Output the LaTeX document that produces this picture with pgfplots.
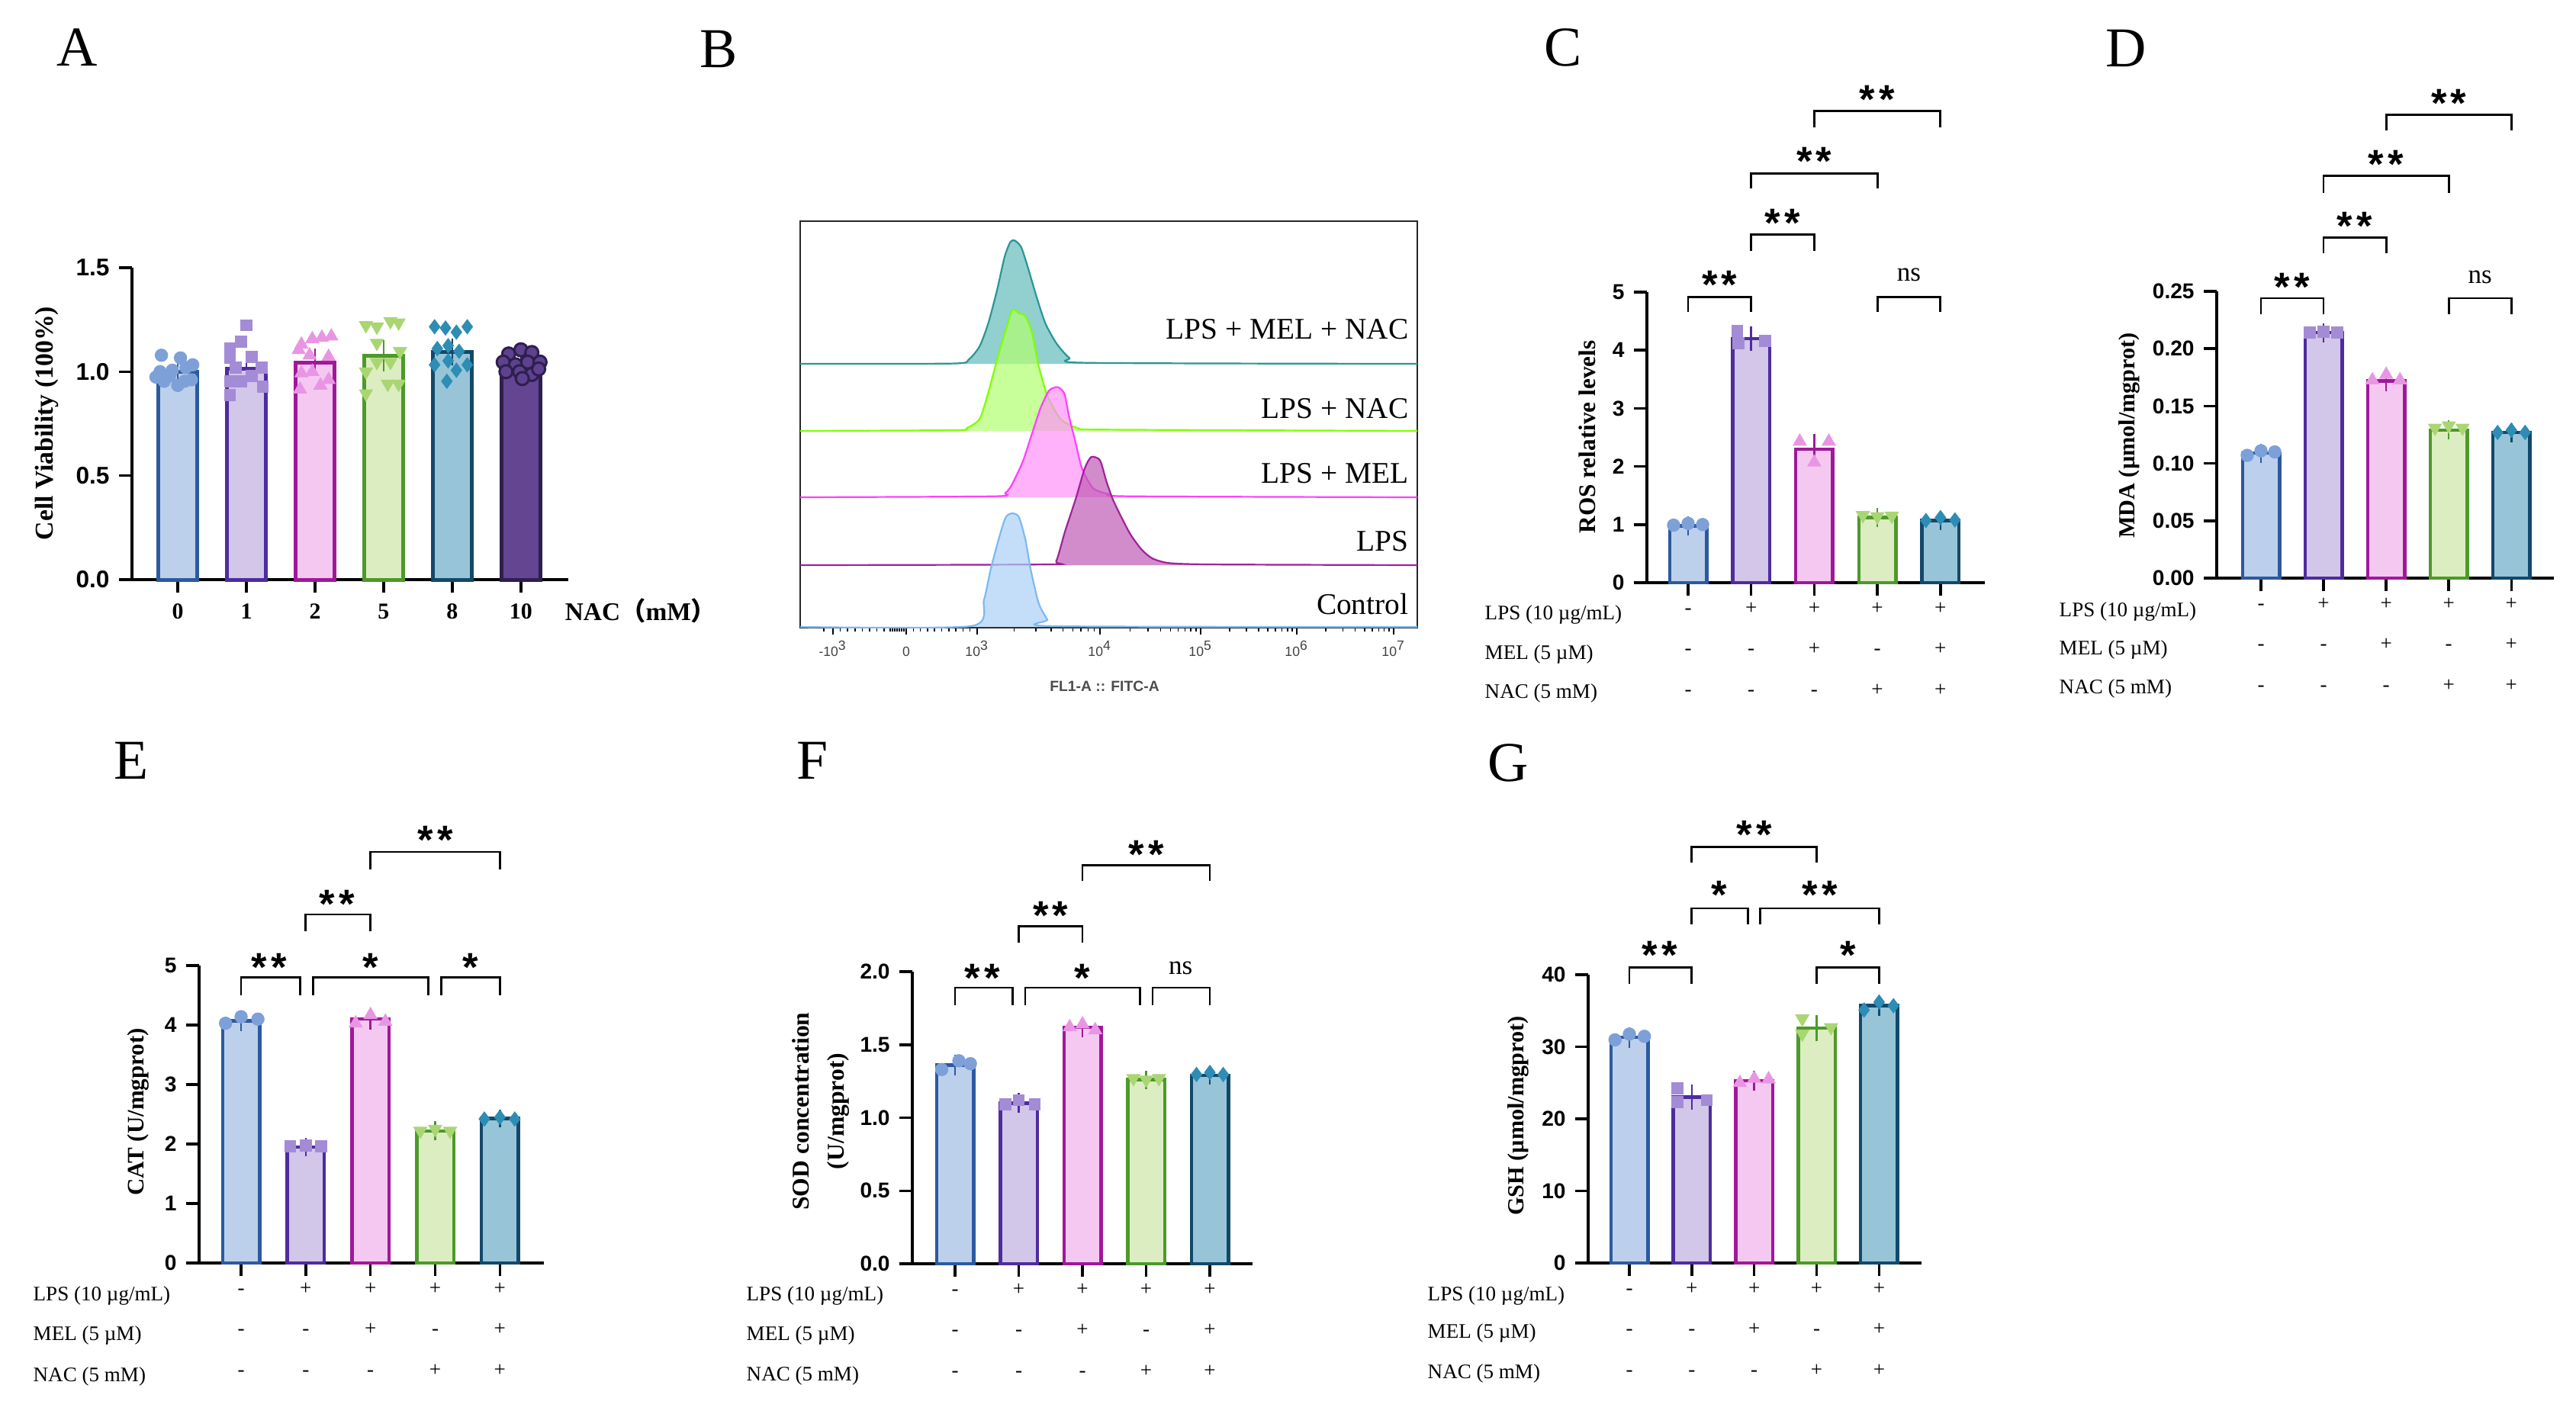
\documentclass[border=0pt]{standalone}
\usepackage{pgfplots}
\pgfplotsset{compat=1.18}
\usepackage{fontspec}
\setmainfont{Liberation Serif}
\newfontfamily\arial{Liberation Sans}
\newfontfamily\cjk{Noto Sans CJK SC}
\definecolor{f0}{HTML}{BDD0EB}\definecolor{b0}{HTML}{2C5AA0}\definecolor{p0}{HTML}{7DA0D8}
\definecolor{f1}{HTML}{D2C6E9}\definecolor{b1}{HTML}{4E2C9E}\definecolor{p1}{HTML}{A48BD6}
\definecolor{f2}{HTML}{F5C8F2}\definecolor{b2}{HTML}{A0189A}\definecolor{p2}{HTML}{E896E4}
\definecolor{f3}{HTML}{DDEDC2}\definecolor{b3}{HTML}{4C9A2A}\definecolor{p3}{HTML}{A9D672}
\definecolor{f4}{HTML}{98C4D8}\definecolor{b4}{HTML}{12496A}\definecolor{p4}{HTML}{2D8DB5}
\definecolor{f5}{HTML}{634592}\definecolor{b5}{HTML}{2E1F4E}\definecolor{p5}{HTML}{5E4290}
\definecolor{hc0}{HTML}{7DB9F0}\definecolor{hf0}{HTML}{ABD0F8}
\definecolor{hc1}{HTML}{A0239A}\definecolor{hf1}{HTML}{C05BB5}
\definecolor{hc2}{HTML}{FF40FF}\definecolor{hf2}{HTML}{FF92F6}
\definecolor{hc3}{HTML}{7FFF00}\definecolor{hf3}{HTML}{B0FF6F}
\definecolor{hc4}{HTML}{2A9696}\definecolor{hf4}{HTML}{64BABA}
\newcommand{\twost}{*\kern1.5pt*}
\newcommand{\onest}{*}
\pgfplotsset{
 gp/.style={scale only axis, anchor=south west, clip=false,
  axis x line=bottom, axis y line=left,
  axis line style={-, line width=0.35mm, black},
  every outer x axis line/.append style={-}, every outer y axis line/.append style={-},
  tick style={line width=0.35mm, black}, tick align=outside, major tick length=1.7mm, ymin=0,
  yticklabel style={font=\arial\bfseries\fontsize{8}{8}\selectfont, /pgf/number format/assume math mode=true}},
 signs/.style={xtick={0,1,2,3,4},
  xticklabels={{\strut-\\\strut-\\\strut-},{\strut+\\\strut-\\\strut-},{\strut+\\\strut+\\\strut-},{\strut+\\\strut-\\\strut+},{\strut+\\\strut+\\\strut+}},
  xticklabel style={align=center, font=\fontsize{7.7}{15.1}\selectfont, anchor=north, inner sep=0pt, yshift=1.3mm}},
 bar/.style={ybar, bar shift=0pt, bar width=4.85mm, line width=0.45mm},
 barA/.style={ybar, bar shift=0pt, bar width=5.1mm, line width=0.5mm},
 m0/.style={only marks, mark=*, mark size=0.8mm, mark options={draw=p0, fill=p0}},
 m1/.style={only marks, mark=square*, mark size=0.72mm, mark options={draw=p1, fill=p1}},
 m2/.style={only marks, mark=triangle*, mark size=0.95mm, mark options={draw=p2, fill=p2}},
 m3/.style={only marks, mark=triangle*, mark size=0.95mm, mark options={draw=p3, fill=p3, rotate=180}},
 m4/.style={only marks, mark=diamond*, mark size=0.9mm, mark options={draw=p4, fill=p4}},
 m5/.style={only marks, mark=*, mark size=0.85mm, mark options={draw=b5, fill=p5, line width=0.3mm}},
 eb/.style={no marks, error bars/.cd, y dir=both, y explicit,
  error bar style={line width=0.25mm, draw=#1}, error mark options={mark size=1.1mm, line width=0.25mm, draw=#1}},
}
\tikzset{
 brk/.style={line width=0.28mm, black},
 sig/.style={font=\arial\bfseries\fontsize{15}{15}\selectfont, anchor=base, yshift=-8.7pt, inner sep=0pt},
 nsl/.style={font=\fontsize{10}{10}\selectfont, anchor=base, yshift=-2.2pt, inner sep=0pt},
 rowlab/.style={font=\fontsize{7.7}{8}\selectfont, anchor=west, inner sep=0pt},
 ylab/.style={font=\bfseries\fontsize{#1}{#1}\selectfont, rotate=90, inner sep=0pt},
 letter/.style={font=\fontsize{21}{21}\selectfont, inner sep=0pt},
 flab/.style={font=\fontsize{11.2}{12}\selectfont, anchor=east, inner sep=0pt},
}
\begin{document}
\begin{tikzpicture}
\path[use as bounding box] (0,0) rectangle (337.7mm,-185.3mm);

% ---------------- Panel A ----------------
\begin{axis}[gp, at={(17.3mm,-76.0mm)}, width=57.2mm, height=40.9mm,
 xmin=-0.667, xmax=5.69, ymax=1.5, ytick={0,0.5,1,1.5},
 yticklabel style={font=\arial\bfseries\fontsize{9}{9}\selectfont, /pgf/number format/.cd, fixed, fixed zerofill, precision=1},
 xtick={0,1,2,3,4,5}, xticklabels={0,1,2,5,8,10},
 xticklabel style={font=\bfseries\fontsize{8.5}{8.5}\selectfont, anchor=base, inner sep=0pt, yshift=-3.4mm}]
\addplot[barA, fill=f0, draw=b0] coordinates {(0,1.000)};
\addplot[barA, fill=f1, draw=b1] coordinates {(1,1.013)};
\addplot[barA, fill=f2, draw=b2] coordinates {(2,1.045)};
\addplot[barA, fill=f3, draw=b3] coordinates {(3,1.075)};
\addplot[barA, fill=f4, draw=b4] coordinates {(4,1.095)};
\addplot[barA, fill=f5, draw=b5] coordinates {(5,1.050)};
\addplot[m0] coordinates {(-0.238,1.079) (0.04,1.066) (0.218,1.033) (-0.258,1.0) (-0.079,1.007) (0.119,1.02) (-0.198,0.954) (0,0.934) (0.198,0.961) (-0.317,0.974) (-0.119,0.98) (0.099,0.954)};
\addplot[m1] coordinates {(1,1.223) (0.921,1.144) (0.762,1.111) (1.079,1.072) (0.762,1.066) (1.218,1.02) (0.841,1.02) (0.762,0.954) (1.079,0.98) (0.921,0.954) (1.238,0.928) (0.762,0.889)};
\addplot[m2] coordinates {(1.802,1.131) (1.96,1.157) (2.099,1.164) (2.238,1.17) (1.762,1.105) (1.921,1.079) (2.198,1.072) (1.802,0.993) (1.96,1.0) (2.198,0.961) (2.079,0.934) (1.782,0.915)};
\addplot[m3] coordinates {(2.742,1.223) (2.901,1.216) (3.099,1.242) (3.218,1.236) (2.901,1.138) (3.238,1.098) (2.901,1.046) (3.099,1.046) (2.742,1.0) (3.06,0.941) (3.218,0.941) (2.742,0.895)};
\addplot[m4] coordinates {(3.742,1.216) (3.901,1.21) (4.06,1.19) (4.218,1.216) (3.782,1.111) (3.94,1.125) (4.099,1.098) (3.742,1.033) (3.94,1.052) (4.218,1.033) (4.06,1.007) (3.921,0.954)};
\addplot[m5] coordinates {(4.821,1.085) (5,1.105) (5.159,1.092) (4.742,1.046) (4.921,1.033) (5.099,1.046) (5.278,1.046) (4.782,1.0) (4.98,1.0) (5.159,0.987) (5.02,0.967) (5.258,1.013)};
\addplot[eb=b0] coordinates {(0,1.000) +- (0,0.012)};
\addplot[eb=b1] coordinates {(1,1.013) +- (0,0.030)};
\addplot[eb=b2] coordinates {(2,1.045) +- (0,0.025)};
\addplot[eb=b3] coordinates {(3,1.075) +- (0,0.035)};
\addplot[eb=b4] coordinates {(4,1.095) +- (0,0.025)};
\addplot[eb=b5] coordinates {(5,1.050) +- (0,0.013)};
\end{axis}
\node[ylab=9.6] at (6.1mm,-55.5mm) {Cell Viability (100\%)};
\node[font=\bfseries\fontsize{9.5}{9.5}\selectfont, inner sep=0pt] at (84.0mm,-80.1mm) {NAC{\cjk （}mM{\cjk ）}};
\node[letter] at (10.1mm,-6.2mm) {A};

% ---------------- Panel B ----------------
\begin{axis}[scale only axis, anchor=south west, at={(104.9mm,-82.3mm)}, width=80.9mm, height=53.3mm,
 xmin=0, xmax=809, ymin=0, ymax=533,
 axis line style={line width=0.2mm, black!85},
 ytick=\empty, xtick pos=left, tick align=outside,
 xtick={43,139,232,393,525,651,778},
 xticklabels={-10\textsuperscript{3},0,10\textsuperscript{3},10\textsuperscript{4},10\textsuperscript{5},10\textsuperscript{6},10\textsuperscript{7}},
 minor xtick={31,52.6,62.2,71.8,81.4,91,100.6,110.2,118,121,124,127,130,133,136,148.3,157.6,166.9,176.2,185.5,194.8,204.1,213.4,222.7,280.5,308.8,328.9,344.5,357.3,368.0,377.4,385.6,432.7,456.0,472.5,485.3,495.7,504.5,512.2,518.9,562.9,585.1,600.9,613.1,623.0,631.5,638.8,645.2,689.2,711.6,727.5,739.8,749.8,758.3,765.7,772.2},
 major tick length=0.9mm, minor tick length=0.5mm,
 tick style={line width=0.15mm, black},
 xticklabel style={font=\arial\fontsize{5}{5}\selectfont, text=black!75, anchor=base, inner sep=0pt, yshift=-2.8mm}]
\addplot[smooth, tension=0.4, draw=hc4, line width=0.22mm, fill=hf4, fill opacity=0.7] coordinates {(0,346) (200.7,346.4) (220.8,351.6) (235.2,369) (246.6,399.3) (258.1,442.7) (267.9,486) (275.4,505.6) (281.1,507.7) (289.7,499) (298.3,473) (309.8,434) (321.3,399.3) (335.6,373.3) (352.9,353.8) (375.8,347.3) (809,346)};
\addplot[smooth, tension=0.4, draw=hc3, line width=0.22mm, fill=hf3, fill opacity=0.7] coordinates {(0,258) (203.6,259) (218,261.5) (235.2,273.6) (246.6,308.3) (258.1,351.7) (269.6,390.7) (278.2,416.7) (286.8,412.4) (295.4,408) (304,386.4) (312.7,343) (324.1,304) (341.4,273.6) (364.3,261.5) (398.8,259.7) (809,258)};
\addplot[smooth, tension=0.4, draw=hc2, line width=0.22mm, fill=hf2, fill opacity=0.7] coordinates {(0,171) (254.5,172.3) (268.9,176.6) (277.5,187.5) (291.8,217.8) (303.3,252.5) (314.8,287.2) (326.3,311) (337.7,315.4) (346.4,306.7) (352.1,278.5) (360.7,243.9) (369.3,209.2) (383.7,183.1) (403.8,175.3) (432.5,172.3) (809,171)};
\addplot[smooth, tension=0.4, draw=hc1, line width=0.22mm, fill=hf1, fill opacity=0.7] coordinates {(0,82) (324.1,83) (335.6,87.2) (347.1,126) (361.4,169.6) (372.9,208.6) (381.5,223.8) (393,219.5) (401.6,191.3) (410.2,167.4) (421.7,143.6) (433.2,121.9) (447.6,102.4) (461.9,90.7) (484.9,84.6) (545.2,82.9) (809,82)};
\addplot[smooth, tension=0.4, draw=hc0, line width=0.22mm, fill=hf0, fill opacity=0.7] coordinates {(0,1) (223.7,2) (240.9,36.6) (249.5,75.6) (261,119) (269.6,145) (278.2,150) (286.8,145) (295.4,114.6) (302.3,75.6) (312.7,32) (324.1,10.5) (332.7,2) (809,1)};
\end{axis}
\node[flab] at (184.7mm,-43.2mm) {LPS + MEL + NAC};
\node[flab] at (184.7mm,-53.6mm) {LPS + NAC};
\node[flab] at (184.7mm,-62.1mm) {LPS + MEL};
\node[flab] at (184.7mm,-71.0mm) {LPS};
\node[flab] at (184.7mm,-79.2mm) {Control};
\node[font=\arial\bfseries\fontsize{5.5}{5.5}\selectfont, text=black!70, inner sep=0pt] at (144.8mm,-90.0mm) {FL1-A :: FITC-A};
\node[letter] at (94.2mm,-6.4mm) {B};

% ---------------- Panel C ----------------
\begin{axis}[gp, signs, at={(215.9mm,-76.4mm)}, width=44.3mm, height=38.1mm,
 xmin=-0.653, xmax=4.704, ymax=5, ytick={0,1,2,3,4,5}]
\addplot[bar, fill=f0, draw=b0] coordinates {(0,0.98)};
\addplot[bar, fill=f1, draw=b1] coordinates {(1,4.20)};
\addplot[bar, fill=f2, draw=b2] coordinates {(2,2.30)};
\addplot[bar, fill=f3, draw=b3] coordinates {(3,1.12)};
\addplot[bar, fill=f4, draw=b4] coordinates {(4,1.07)};
\addplot[m0] coordinates {(-0.23,0.99) (0,1.02) (0.23,1.00)};
\addplot[m1] coordinates {(0.78,4.33) (0.80,4.12) (1.22,4.16)};
\addplot[m2] coordinates {(1.77,2.43) (2.23,2.43) (2.00,2.07)};
\addplot[m3] coordinates {(2.77,1.16) (3.00,1.14) (3.23,1.15)};
\addplot[m4] coordinates {(3.77,1.07) (4.00,1.12) (4.23,1.08)};
\addplot[eb=b0] coordinates {(0,0.98) +- (0,0.02)};
\addplot[eb=b1] coordinates {(1,4.20) +- (0,0.07)};
\addplot[eb=b2] coordinates {(2,2.30) +- (0,0.12)};
\addplot[eb=b3] coordinates {(3,1.12) +- (0,0.02)};
\addplot[eb=b4] coordinates {(4,1.07) +- (0,0.02)};
\draw[brk] (axis cs:0,4.66) |- (axis cs:1,4.91) -- (axis cs:1,4.66);
\node[sig] at (axis cs:0.5,5.29) {\twost};
\draw[brk] (axis cs:1,5.71) |- (axis cs:2,5.99) -- (axis cs:2,5.71);
\node[sig] at (axis cs:1.5,6.35) {\twost};
\draw[brk] (axis cs:1,6.78) |- (axis cs:3,7.04) -- (axis cs:3,6.78);
\node[sig] at (axis cs:2,7.42) {\twost};
\draw[brk] (axis cs:2,7.84) |- (axis cs:4,8.12) -- (axis cs:4,7.84);
\node[sig] at (axis cs:3,8.48) {\twost};
\draw[brk] (axis cs:3,4.66) |- (axis cs:4,4.91) -- (axis cs:4,4.66);
\node[nsl] at (axis cs:3.5,5.29) {ns};
\end{axis}
\node[ylab=8.9] at (208.1mm,-57.3mm) {ROS relative levels};
\node[rowlab] at (194.6mm,-80.6mm) {LPS (10 µg/mL)};
\node[rowlab] at (194.6mm,-85.8mm) {MEL (5 µM)};
\node[rowlab] at (194.6mm,-90.9mm) {NAC (5 mM)};
\node[letter] at (204.9mm,-6.2mm) {C};

% ---------------- Panel D ----------------
\begin{axis}[gp, signs, at={(290.6mm,-75.8mm)}, width=44.2mm, height=37.6mm,
 xmin=-0.707, xmax=4.68, ymax=0.25, ytick={0,0.05,0.1,0.15,0.2,0.25},
 yticklabel style={/pgf/number format/.cd, fixed, fixed zerofill, precision=2}]
\addplot[bar, fill=f0, draw=b0] coordinates {(0,0.109)};
\addplot[bar, fill=f1, draw=b1] coordinates {(1,0.214)};
\addplot[bar, fill=f2, draw=b2] coordinates {(2,0.172)};
\addplot[bar, fill=f3, draw=b3] coordinates {(3,0.129)};
\addplot[bar, fill=f4, draw=b4] coordinates {(4,0.127)};
\addplot[m0] coordinates {(-0.22,0.107) (0,0.111) (0.22,0.110)};
\addplot[m1] coordinates {(0.78,0.214) (1,0.215) (1.22,0.214)};
\addplot[m2] coordinates {(1.78,0.1726) (2,0.1774) (2.22,0.1726)};
\addplot[m3] coordinates {(2.78,0.131) (3,0.133) (3.22,0.131)};
\addplot[m4] coordinates {(3.78,0.127) (4,0.129) (4.22,0.127)};
\addplot[eb=b0] coordinates {(0,0.109) +- (0,0.001)};
\addplot[eb=b1] coordinates {(1,0.214) +- (0,0.001)};
\addplot[eb=b2] coordinates {(2,0.172) +- (0,0.0015)};
\addplot[eb=b3] coordinates {(3,0.129) +- (0,0.001)};
\addplot[eb=b4] coordinates {(4,0.127) +- (0,0.001)};
\draw[brk] (axis cs:0,0.230) |- (axis cs:1,0.244) -- (axis cs:1,0.230);
\node[sig] at (axis cs:0.5,0.262) {\twost};
\draw[brk] (axis cs:1,0.283) |- (axis cs:2,0.297) -- (axis cs:2,0.283);
\node[sig] at (axis cs:1.5,0.315) {\twost};
\draw[brk] (axis cs:1,0.336) |- (axis cs:3,0.351) -- (axis cs:3,0.336);
\node[sig] at (axis cs:2,0.369) {\twost};
\draw[brk] (axis cs:2,0.390) |- (axis cs:4,0.404) -- (axis cs:4,0.390);
\node[sig] at (axis cs:3,0.422) {\twost};
\draw[brk] (axis cs:3,0.230) |- (axis cs:4,0.244) -- (axis cs:4,0.230);
\node[nsl] at (axis cs:3.5,0.262) {ns};
\end{axis}
\node[ylab=8.6] at (279.1mm,-57.1mm) {MDA (µmol/mgprot)};
\node[rowlab] at (269.9mm,-80.2mm) {LPS (10 µg/mL)};
\node[rowlab] at (269.9mm,-85.2mm) {MEL (5 µM)};
\node[rowlab] at (269.9mm,-90.3mm) {NAC (5 mM)};
\node[letter] at (278.7mm,-6.3mm) {D};

% ---------------- Panel E ----------------
\begin{axis}[gp, signs, at={(26.1mm,-165.6mm)}, width=45.2mm, height=39.0mm,
 xmin=-0.649, xmax=4.68, ymax=5, ytick={0,1,2,3,4,5}]
\addplot[bar, fill=f0, draw=b0] coordinates {(0,4.07)};
\addplot[bar, fill=f1, draw=b1] coordinates {(1,1.95)};
\addplot[bar, fill=f2, draw=b2] coordinates {(2,4.10)};
\addplot[bar, fill=f3, draw=b3] coordinates {(3,2.22)};
\addplot[bar, fill=f4, draw=b4] coordinates {(4,2.43)};
\addplot[m0] coordinates {(-0.24,4.03) (0,4.14) (0.26,4.10)};
\addplot[m1] coordinates {(0.76,1.96) (1,1.97) (1.24,1.96)};
\addplot[m2] coordinates {(1.77,4.03) (2,4.17) (2.23,4.06)};
\addplot[m3] coordinates {(2.77,2.22) (3,2.25) (3.23,2.22)};
\addplot[m4] coordinates {(3.76,2.42) (4,2.45) (4.23,2.42)};
\addplot[eb=b0] coordinates {(0,4.07) +- (0,0.03)};
\addplot[eb=b1] coordinates {(1,1.95) +- (0,0.01)};
\addplot[eb=b2] coordinates {(2,4.10) +- (0,0.03)};
\addplot[eb=b3] coordinates {(3,2.22) +- (0,0.02)};
\addplot[eb=b4] coordinates {(4,2.43) +- (0,0.01)};
\draw[brk] (axis cs:0,4.50) |- (axis cs:0.91,4.80) -- (axis cs:0.91,4.50);
\node[sig] at (axis cs:0.43,5.13) {\twost};
\draw[brk] (axis cs:1.11,4.50) |- (axis cs:2.89,4.80) -- (axis cs:2.89,4.50);
\node[sig] at (axis cs:2,5.13) {\onest};
\draw[brk] (axis cs:3.09,4.50) |- (axis cs:4,4.80) -- (axis cs:4,4.50);
\node[sig] at (axis cs:3.55,5.13) {\onest};
\draw[brk] (axis cs:1,5.58) |- (axis cs:2,5.86) -- (axis cs:2,5.58);
\node[sig] at (axis cs:1.48,6.20) {\twost};
\draw[brk] (axis cs:2,6.62) |- (axis cs:4,6.91) -- (axis cs:4,6.62);
\node[sig] at (axis cs:3,7.27) {\twost};
\end{axis}
\node[ylab=8.8] at (18.1mm,-145.8mm) {CAT (U/mgprot)};
\node[rowlab] at (4.3mm,-169.9mm) {LPS (10 µg/mL)};
\node[rowlab] at (4.3mm,-175.1mm) {MEL (5 µM)};
\node[rowlab] at (4.3mm,-180.5mm) {NAC (5 mM)};
\node[letter] at (17.2mm,-99.7mm) {E};

% ---------------- Panel F ----------------
\begin{axis}[gp, signs, at={(119.6mm,-165.7mm)}, width=44.6mm, height=38.3mm,
 xmin=-0.671, xmax=4.67, ymax=2, ytick={0,0.5,1,1.5,2},
 yticklabel style={/pgf/number format/.cd, fixed, fixed zerofill, precision=1}]
\addplot[bar, fill=f0, draw=b0] coordinates {(0,1.36)};
\addplot[bar, fill=f1, draw=b1] coordinates {(1,1.10)};
\addplot[bar, fill=f2, draw=b2] coordinates {(2,1.62)};
\addplot[bar, fill=f3, draw=b3] coordinates {(3,1.26)};
\addplot[bar, fill=f4, draw=b4] coordinates {(4,1.29)};
\addplot[m0] coordinates {(-0.21,1.33) (0.06,1.39) (0.24,1.37)};
\addplot[m1] coordinates {(0.79,1.09) (1,1.12) (1.25,1.09)};
\addplot[m2] coordinates {(1.80,1.62) (2,1.64) (2.20,1.60)};
\addplot[m3] coordinates {(2.80,1.27) (3,1.26) (3.20,1.27)};
\addplot[m4] coordinates {(3.79,1.296) (4,1.31) (4.21,1.296)};
\addplot[eb=b0] coordinates {(0,1.36) +- (0,0.015)};
\addplot[eb=b1] coordinates {(1,1.10) +- (0,0.01)};
\addplot[eb=b2] coordinates {(2,1.62) +- (0,0.01)};
\addplot[eb=b3] coordinates {(3,1.26) +- (0,0.005)};
\addplot[eb=b4] coordinates {(4,1.29) +- (0,0.005)};
\draw[brk] (axis cs:0,1.77) |- (axis cs:0.90,1.89) -- (axis cs:0.90,1.77);
\node[sig] at (axis cs:0.43,2.02) {\twost};
\draw[brk] (axis cs:1.10,1.77) |- (axis cs:2.90,1.89) -- (axis cs:2.90,1.77);
\node[sig] at (axis cs:2,2.02) {\onest};
\draw[brk] (axis cs:3.10,1.77) |- (axis cs:4,1.89) -- (axis cs:4,1.77);
\node[nsl] at (axis cs:3.54,2.02) {ns};
\draw[brk] (axis cs:1,2.20) |- (axis cs:2,2.31) -- (axis cs:2,2.20);
\node[sig] at (axis cs:1.5,2.45) {\twost};
\draw[brk] (axis cs:2,2.62) |- (axis cs:4,2.73) -- (axis cs:4,2.62);
\node[sig] at (axis cs:3,2.87) {\twost};
\end{axis}
\node[ylab=9, align=center, font=\bfseries\fontsize{9}{13}\selectfont] at (107.6mm,-145.7mm) {SOD concentration\\(U/mgprot)};
\node[rowlab] at (97.8mm,-169.9mm) {LPS (10 µg/mL)};
\node[rowlab] at (97.8mm,-175.1mm) {MEL (5 µM)};
\node[rowlab] at (97.8mm,-180.4mm) {NAC (5 mM)};
\node[letter] at (106.5mm,-99.7mm) {F};

% ---------------- Panel G ----------------
\begin{axis}[gp, signs, at={(208.2mm,-165.6mm)}, width=43.7mm, height=37.8mm,
 xmin=-0.66, xmax=4.68, ymax=40, ytick={0,10,20,30,40}]
\addplot[bar, fill=f0, draw=b0] coordinates {(0,31.3)};
\addplot[bar, fill=f1, draw=b1] coordinates {(1,23.0)};
\addplot[bar, fill=f2, draw=b2] coordinates {(2,25.3)};
\addplot[bar, fill=f3, draw=b3] coordinates {(3,32.6)};
\addplot[bar, fill=f4, draw=b4] coordinates {(4,35.7)};
\addplot[m0] coordinates {(-0.23,30.96) (0,31.76) (0.24,31.45)};
\addplot[m1] coordinates {(0.77,24.2) (0.77,22.3) (1.24,22.6)};
\addplot[m2] coordinates {(1.77,25.0) (2,25.6) (2.23,25.5)};
\addplot[m3] coordinates {(2.77,33.9) (2.77,31.8) (3.23,32.7)};
\addplot[m4] coordinates {(3.76,35.1) (4,36.2) (4.23,35.7)};
\addplot[eb=b0] coordinates {(0,31.3) +- (0,0.25)};
\addplot[eb=b1] coordinates {(1,23.0) +- (0,0.6)};
\addplot[eb=b2] coordinates {(2,25.3) +- (0,0.2)};
\addplot[eb=b3] coordinates {(3,32.6) +- (0,0.6)};
\addplot[eb=b4] coordinates {(4,35.7) +- (0,0.3)};
\draw[brk] (axis cs:0,38.7) |- (axis cs:1,41.0) -- (axis cs:1,38.7);
\node[sig] at (axis cs:0.49,44.0) {\twost};
\draw[brk] (axis cs:3,38.7) |- (axis cs:4,41.0) -- (axis cs:4,38.7);
\node[sig] at (axis cs:3.5,44.0) {\onest};
\draw[brk] (axis cs:1,47.0) |- (axis cs:1.90,49.2) -- (axis cs:1.90,47.0);
\node[sig] at (axis cs:1.44,52.4) {\onest};
\draw[brk] (axis cs:2.10,47.0) |- (axis cs:4,49.2) -- (axis cs:4,47.0);
\node[sig] at (axis cs:3.05,52.4) {\twost};
\draw[brk] (axis cs:1,55.6) |- (axis cs:3,57.7) -- (axis cs:3,55.6);
\node[sig] at (axis cs:2,60.8) {\twost};
\end{axis}
\node[ylab=8.6] at (199.0mm,-146.3mm) {GSH (µmol/mgprot)};
\node[rowlab] at (187.1mm,-169.9mm) {LPS (10 µg/mL)};
\node[rowlab] at (187.1mm,-174.8mm) {MEL (5 µM)};
\node[rowlab] at (187.1mm,-180.1mm) {NAC (5 mM)};
\node[letter] at (197.7mm,-100.0mm) {G};
\end{tikzpicture}
\end{document}
